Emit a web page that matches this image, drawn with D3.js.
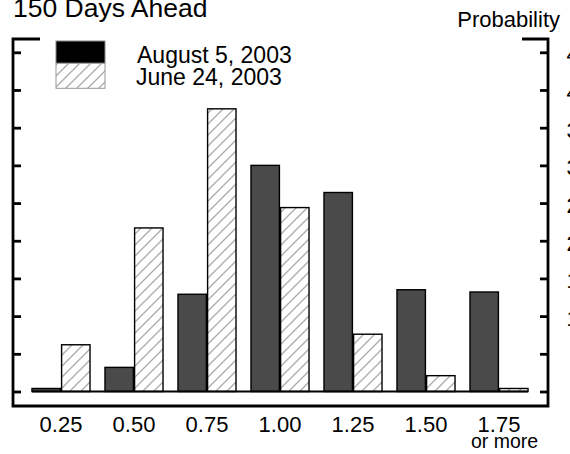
<!DOCTYPE html>
<html>
<head>
<meta charset="utf-8">
<script src="https://cdn.jsdelivr.net/npm/d3@7"></script>
<style>
  html, body { margin: 0; padding: 0; background: #fff; }
  svg { display: block; font-family: Arial, "Liberation Sans", sans-serif; }
</style>
</head>
<body>
<svg id="chart" width="570" height="454"></svg>
<script>
// ---- data ----
const categories = ["0.25", "0.50", "0.75", "1.00", "1.25", "1.50", "1.75"];
const seriesNames = ["August 5, 2003", "June 24, 2003"];
const august5 = [0.4, 3.2, 12.9, 30.0, 26.4, 13.5, 13.2];
const june24 = [6.2, 21.7, 37.5, 24.4, 7.6, 2.1, 0.4];
const yTicks = [0, 5, 10, 15, 20, 25, 30, 35, 40, 45];
const title = "150 Days Ahead";
const yLabel = "Probability";
const lastCatNote = "or more";

// ---- layout ----
const svg = d3.select("#chart");
const frameL = 13, frameR = 548, frameT = 39, frameB = 406;

const x = d3.scaleBand().domain(categories).range([24.5, 535.5])
  .paddingInner(0.205).paddingOuter(0.1025);
const xSub = d3.scaleBand().domain([0, 1]).range([0, x.bandwidth()]).paddingInner(0.04);
const y = d3.scaleLinear().domain([0, 45]).range([391.5, 52.3]);

// hatch pattern
const defs = svg.append("defs");
const pat = defs.append("pattern").attr("id", "hatch")
  .attr("patternUnits", "userSpaceOnUse").attr("width", 11).attr("height", 11);
pat.append("rect").attr("width", 11).attr("height", 11).attr("fill", "#fff");
pat.append("path").attr("d", "M0,11 L11,0 M-3,3 L3,-3 M8,14 L14,8")
  .attr("stroke", "#aaaaaa").attr("stroke-width", 1.3);

// frame
const frame = svg.append("g").attr("stroke", "#000").attr("stroke-width", 2.8).attr("fill", "none");
frame.append("path").attr("d", `M40,${frameT} H${frameL} V${frameB} H${frameR} V${frameT} H522`);

// left axis ticks (inward)
svg.append("g").attr("transform", `translate(${frameL},0)`)
  .call(d3.axisRight(y).tickValues(yTicks).tickSize(8).tickFormat(""))
  .call(g => g.select(".domain").remove())
  .call(g => g.selectAll(".tick line").attr("stroke", "#000").attr("stroke-width", 2.8));

// right axis ticks (inward)
svg.append("g").attr("transform", `translate(${frameR},0)`)
  .call(d3.axisLeft(y).tickValues(yTicks).tickSize(8).tickFormat(""))
  .call(g => g.select(".domain").remove())
  .call(g => g.selectAll(".tick line").attr("stroke", "#000").attr("stroke-width", 2.8));

// right axis labels (mostly clipped by the window edge, as in the reference)
svg.append("g").selectAll("text").data(yTicks).join("text")
  .attr("x", 591).attr("y", d => y(d) + 10)
  .attr("text-anchor", "end").attr("font-size", 22).attr("fill", "#000")
  .text(d => d);

// bars
const groups = svg.append("g").selectAll("g").data(categories).join("g")
  .attr("transform", d => `translate(${x(d)},0)`);

groups.append("rect")
  .attr("x", xSub(0)).attr("width", xSub.bandwidth())
  .attr("y", (d, i) => y(august5[i]))
  .attr("height", (d, i) => y(0) - y(august5[i]))
  .attr("fill", "#4a4a4a").attr("stroke", "#000").attr("stroke-width", 1.4);

groups.append("rect")
  .attr("x", xSub(1)).attr("width", xSub.bandwidth())
  .attr("y", (d, i) => y(june24[i]))
  .attr("height", (d, i) => y(0) - y(june24[i]))
  .attr("fill", "url(#hatch)").attr("stroke", "#000").attr("stroke-width", 1.4);

// baseline
svg.append("line")
  .attr("x1", x(categories[0])).attr("x2", x(categories[categories.length - 1]) + x.bandwidth())
  .attr("y1", y(0)).attr("y2", y(0))
  .attr("stroke", "#000").attr("stroke-width", 2);

// x axis labels
svg.append("g").attr("transform", `translate(0,${frameB})`)
  .call(d3.axisBottom(x).tickSize(0))
  .call(g => g.select(".domain").remove())
  .call(g => g.selectAll(".tick text")
    .attr("y", 25.5).attr("dy", 0)
    .attr("font-size", 22).attr("fill", "#000")
    .attr("font-family", "Arial, 'Liberation Sans', sans-serif"));

svg.append("text")
  .attr("x", x(categories[categories.length - 1]) + x.bandwidth() / 2 + 5.5)
  .attr("y", 448).attr("text-anchor", "middle")
  .attr("font-size", 19.5).attr("fill", "#000").text(lastCatNote);

// title & y label
svg.append("text").attr("x", 13).attr("y", 16.7)
  .attr("font-size", 26.5).attr("fill", "#000").text(title);
svg.append("text").attr("x", 560).attr("y", 26.7).attr("text-anchor", "end")
  .attr("font-size", 22).attr("fill", "#000").text(yLabel);

// legend
const leg = svg.append("g");
leg.append("rect").attr("x", 56).attr("y", 41).attr("width", 49).attr("height", 22.3)
  .attr("fill", "#000").attr("stroke", "#888").attr("stroke-width", 1);
leg.append("rect").attr("x", 56).attr("y", 63.3).attr("width", 49).attr("height", 25)
  .attr("fill", "url(#hatch)").attr("stroke", "#999").attr("stroke-width", 1);
leg.append("text").attr("x", 137).attr("y", 62.5)
  .attr("font-size", 23).attr("fill", "#000").text(seriesNames[0]);
leg.append("text").attr("x", 136).attr("y", 85)
  .attr("font-size", 23).attr("fill", "#000").text(seriesNames[1]);
</script>
</body>
</html>
